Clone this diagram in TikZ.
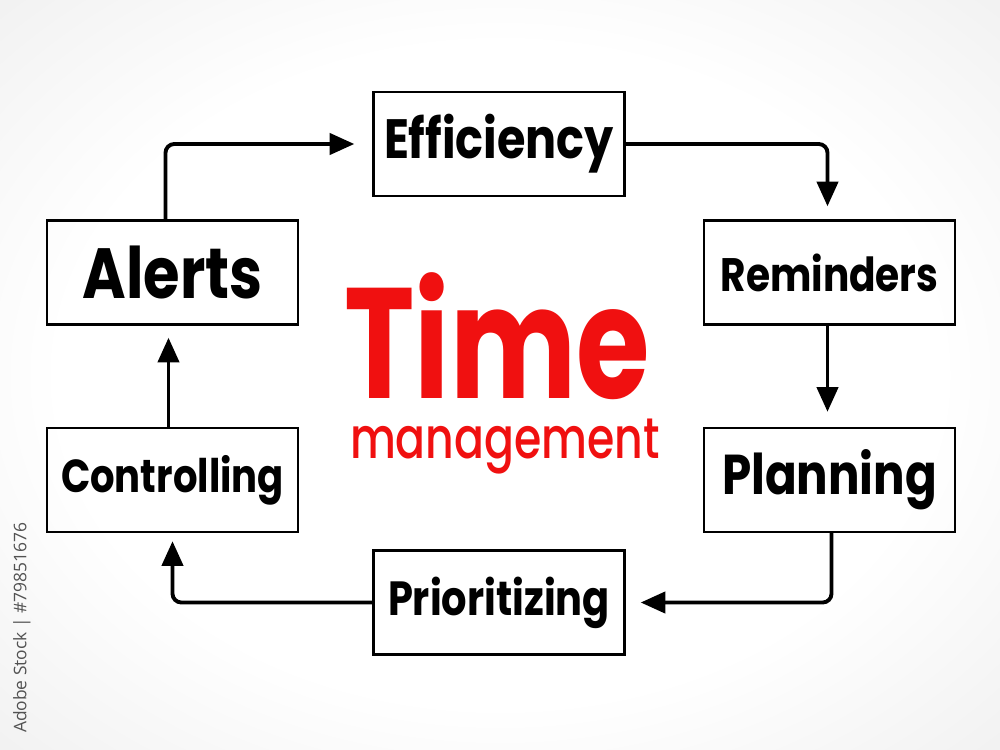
\documentclass[tikz,border=0pt]{standalone}
\usepackage{fontspec}
\usetikzlibrary{arrows.meta,calc}
\setmainfont{Poppins}
\newfontfamily\wmfont{Open Sans}
\definecolor{tmred}{RGB}{240,16,16}
\pgfdeclareradialshading{bgshade}{\pgfpoint{0bp}{0bp}}{color(0bp)=(white); color(22bp)=(white); color(50bp)=(black!11); color(72bp)=(black!22)}
\newcommand\lbl[2]{\scalebox{1}[1.2]{\resizebox{#1}{!}{\bfseries #2}}}
\begin{document}
\begin{tikzpicture}[x=0.02cm,y=-0.02cm,
  box/.style={draw=black, line width=1.4pt, minimum width=5.02cm, minimum height=2.08cm, inner sep=0pt},
  arr/.style={line width=2.2pt, rounded corners=5pt, -{Triangle[length=14pt,width=12pt]}}]
\shade[shading=bgshade] (0,0) rectangle (1000,750);
\useasboundingbox (0,0) rectangle (1000,750);

\node[box] (eff)    at (499,144)   {\lbl{4.6cm}{Efficiency}};
\node[box] (alerts) at (172.5,272.5) {\lbl{3.6cm}{Alerts}};
\node[box] (rem)    at (829.5,272.5) {\lbl{4.36cm}{Reminders}};
\node[box] (ctrl)   at (172.5,480) {\lbl{4.46cm}{Controlling}};
\node[box] (plan)   at (829.5,480) {\lbl{4.3cm}{Planning}};
\node[box] (prior)  at (499,602.5) {\lbl{4.44cm}{Prioritizing}};

\node[text=tmred, inner sep=0pt] (time) at (497,336) {\scalebox{1}[1.32]{\resizebox{6.1cm}{!}{\bfseries Time}}};
\node[text=tmred, inner sep=0pt] (mgmt) at (505,447) {\scalebox{1}[1.3]{\resizebox{6.2cm}{!}{\fontspec{Poppins}[UprightFont=* Medium] management}}};

\node[rotate=90, text=black!68, inner sep=0pt] (wm) at (22,628) {\resizebox{4.2cm}{!}{\wmfont Adobe Stock | \#79851676}};

\draw[arr, shorten >=0.36cm] ($(alerts.north)+(-7,0)$) |- (eff.west);
\draw[arr, shorten >=0.26cm] (eff.east) -| ($(rem.north)+(-2,0)$);
\draw[arr, shorten >=0.3cm] ($(rem.south)+(-2,0)$) -- ($(plan.north)+(-2,0)$);
\draw[arr, shorten >=0.3cm] ($(plan.south)+(2,0)$) |- (prior.east);
\draw[arr, shorten >=0.16cm] (prior.west) -| (ctrl.south);
\draw[arr, shorten >=0.24cm] ($(ctrl.north)+(-4,0)$) -- ($(alerts.south)+(-4,0)$);
\end{tikzpicture}
\end{document}
